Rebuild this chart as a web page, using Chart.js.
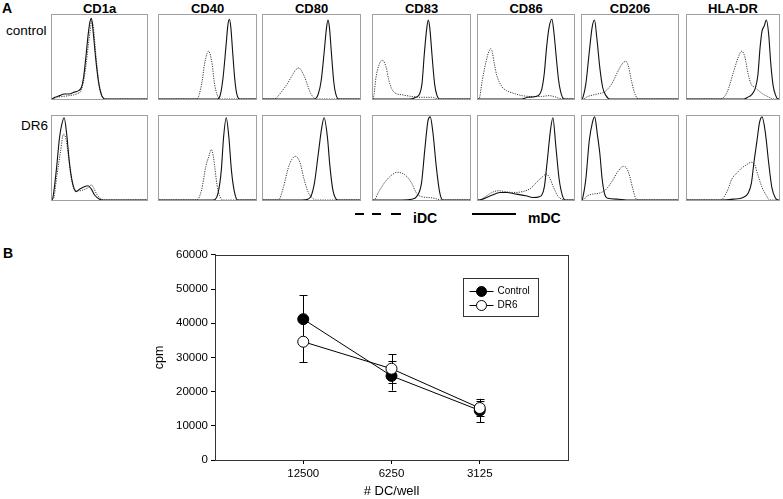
<!DOCTYPE html>
<html>
<head>
<meta charset="utf-8">
<script src="https://cdn.jsdelivr.net/npm/chart.js@4.4.1/dist/chart.umd.min.js"></script>
<style>
body { margin:0; background:#fff; width:783px; height:499px; position:relative; overflow:hidden;
       font-family:"Liberation Sans", Arial, sans-serif; color:#000; }
.lbl { position:absolute; white-space:nowrap; line-height:1; }
.hdr { font-weight:bold; font-size:13px; text-align:center; width:110px; }
.panel { position:absolute; border:1px solid #a0a0a0; box-sizing:border-box; height:86px; }
.panel canvas { display:block; }
.dash { position:absolute; height:2px; background:#000; }
</style>
</head>
<body>
<script>
// ---- panel A: histogram outlines, x and y in % of the panel ----
const markers = ["CD1a", "CD40", "CD80", "CD83", "CD86", "CD206", "HLA-DR"];
const rowNames = ["control", "DR6"];

const cd1aCtrlIdc = [[0,0],[5,2],[11,3],[18,4],[26,6],[30,9],[32,15],[34,26],[36,42],[38,62],[40,80],[42,93],[43.5,86],[46,55],[49,22],[52,6],[55.5,0],[100,0]];
const cd1aCtrlMdc = [[0,0],[3,2],[8,4],[13,6],[18,6],[23,8],[28,10],[31,14],[33,24],[35.5,48],[38,76],[40,92],[41.5,96],[43.5,78],[46,48],[49,20],[52,5],[55.5,0],[100,0]];
const cd40CtrlIdc = [[0,0],[39,0],[44,18],[47,42],[49.5,54],[51,57],[53,52],[55,40],[57,20],[60,5],[64,0],[100,0]];
const cd40CtrlMdc = [[0,0],[60,0],[63,4],[66,25],[69,62],[71,88],[72.5,95],[74,86],[76,55],[78,25],[80,7],[83,0],[100,0]];
const cd80CtrlIdc = [[0,0],[12,0],[16,4],[20,10],[25,18],[30,28],[34,35],[37,37],[40,33],[43,26],[46,16],[49,7],[52,2],[55,0],[100,0]];
const cd80CtrlMdc = [[0,0],[53,0],[57,6],[60,22],[63,55],[65.5,85],[67,94],[68.5,85],[70.5,55],[73,20],[75,6],[78,0],[100,0]];
const cd83CtrlIdc = [[0,0],[1,5],[3,25],[6,40],[9,46],[11,45],[13.5,38],[16,24],[19,13],[23,7],[30,5],[40,3],[50,2],[60,2],[68,0],[100,0]];
const cd83CtrlMdc = [[0,0],[38,0],[44,2],[48,6],[50.5,18],[53,55],[55.5,85],[57,94],[58.5,85],[61,50],[63.5,18],[66,4],[69,0],[100,0]];
const cd86CtrlIdc = [[0,0],[1,0],[4.4,22],[9.5,50],[12,58],[13.5,60],[15,55],[17,42],[19.6,28],[24.7,15],[29.7,10],[36.5,7],[46,4],[56,3],[66,3],[74,4],[79,3],[84,1],[89,0],[100,0]];
const cd86CtrlMdc = [[0,0],[45,0],[52,2],[60,3],[66,10],[69,30],[71.5,62],[74,85],[77,95],[79,80],[81.5,50],[84,22],[87,5],[90,0],[100,0]];
const cd206CtrlIdc = [[0,0],[1,0],[6,3],[16,6],[24,9],[31,18],[37,32],[42,42],[45.8,45],[48.5,38],[51.5,22],[54.5,8],[57.5,1],[60,0],[100,0]];
const cd206CtrlMdc = [[0,0],[1,2],[4,18],[7.5,55],[10.5,85],[13,94],[15.5,72],[18.5,38],[21.5,14],[25,4],[29,0],[100,0]];
const hlaCtrlIdc = [[0,0],[36,0],[43.5,8],[50.5,32],[55.8,50],[59.4,57],[62.9,50],[66.4,30],[70,17],[73.5,14],[78.8,9],[84,5],[89.4,2],[93,0],[100,0]];
const hlaCtrlMdc = [[0,0],[62,0],[66,2],[70,5],[74,12],[77,28],[79.5,62],[81.6,81],[84,87],[86.2,94],[88.7,78],[91,43],[93.6,16],[96.5,4],[99,0],[100,0]];

const cd1aDr6Idc = [[0,0],[2,3],[5,28],[9,58],[12,78],[14.5,74],[17,55],[20,28],[24,12],[29.3,11],[35,13],[38.5,15],[41.4,18],[44,14],[47,7],[51,2],[55,0],[100,0]];
const cd1aDr6Mdc = [[0,0],[1,3],[4.5,35],[8,75],[10.3,90],[12.8,98],[15.5,78],[18.3,45],[21.7,20],[25.2,10],[29.3,13],[34.5,16],[38,17],[41.4,13],[44.8,6],[50,1],[53.4,0],[100,0]];
const cd40Dr6Idc = [[0,0],[38.9,0],[43.9,12],[48.3,40],[51.4,52],[54,60],[56,52],[57.4,40],[59.8,18],[62.5,5],[65.9,0],[100,0]];
const cd40Dr6Mdc = [[0,0],[55.7,0],[60.8,8],[64.2,35],[66.6,75],[69.3,98],[72,75],[74.7,35],[77.7,10],[81.1,0],[100,0]];
const cd80Dr6Idc = [[0,0],[16,0],[21,15],[26,38],[29.5,48],[33.6,52],[38,45],[42.3,25],[46.3,10],[51.3,2],[54.7,0],[100,0]];
const cd80Dr6Mdc = [[0,0],[39.6,0],[46.3,1],[49.7,5],[53,20],[57,55],[60.4,85],[63,98],[66.4,75],[69,40],[72,12],[74.8,2],[77.2,0],[100,0]];
const cd83Dr6Idc = [[0,0],[1,0],[6,10],[12.8,22],[19.6,30],[24.7,33],[29.7,32],[34.8,28],[39.9,20],[44.9,8],[50,4],[56.8,3],[63.5,2],[70.3,0],[100,0]];
const cd83Dr6Mdc = [[0,0],[29.7,0],[39.9,1],[44.9,4],[50,20],[53.4,60],[56.8,95],[59,99],[61.8,80],[65.2,40],[68.6,10],[72,0],[100,0]];
const cd86Dr6Idc = [[0,0],[1,0],[7.8,4],[14.5,9],[21.3,11],[28,10],[36.5,9],[46.6,10],[55,14],[61.8,22],[67.6,28],[71,31],[74.3,27],[78.7,15],[83,5],[87,1],[90.5,0],[100,0]];
const cd86Dr6Mdc = [[0,0],[1,0],[13,5],[23,9],[30,9],[40,7],[50,5],[57,3],[64,4],[69,15],[72,45],[75.7,85],[78,98],[81,65],[84.5,25],[88,5],[91,0],[100,0]];
const cd206Dr6Idc = [[0,0],[0.7,0],[5.8,5],[10.8,7],[17.6,8],[24.4,12],[31.2,22],[38,35],[43,40],[46.4,38],[49.8,28],[53.2,12],[55.9,2],[58.3,0],[100,0]];
const cd206Dr6Mdc = [[0,0],[0.7,2],[4,25],[7.5,70],[10.8,92],[13.2,99],[16,78],[18.6,55],[21,25],[23.4,8],[26.8,2],[36.3,1],[46.4,0],[100,0]];
const hlaDr6Idc = [[0,0],[36.4,0],[43.5,10],[48.8,25],[54,32],[59.4,38],[64.7,42],[70,45],[73.5,42],[77,30],[81.6,15],[85.9,6],[90,0],[100,0]];
const hlaDr6Mdc = [[0,0],[36.4,0],[50.5,1],[61,3],[66.4,8],[70,20],[72.8,45],[76,70],[78.8,92],[81.6,99],[85.2,80],[88.7,45],[92.2,15],[95.8,3],[99.3,0],[100,0]];

const idcRows = [
  [cd1aCtrlIdc, cd40CtrlIdc, cd80CtrlIdc, cd83CtrlIdc, cd86CtrlIdc, cd206CtrlIdc, hlaCtrlIdc],
  [cd1aDr6Idc, cd40Dr6Idc, cd80Dr6Idc, cd83Dr6Idc, cd86Dr6Idc, cd206Dr6Idc, hlaDr6Idc]
];
const mdcRows = [
  [cd1aCtrlMdc, cd40CtrlMdc, cd80CtrlMdc, cd83CtrlMdc, cd86CtrlMdc, cd206CtrlMdc, hlaCtrlMdc],
  [cd1aDr6Mdc, cd40Dr6Mdc, cd80Dr6Mdc, cd83Dr6Mdc, cd86Dr6Mdc, cd206Dr6Mdc, hlaDr6Mdc]
];

// ---- panel B: proliferation ----
const dcLabels = ["12500", "6250", "3125"];
const controlCpm = [41200, 24600, 14500];
const controlErr = [7000, 4300, 3400];
const dr6Cpm = [34600, 26700, 15200];
const dr6Err = [6000, 4200, 2200];

// layout
const panelLeft = [51, 158, 262, 372, 477, 581, 686];
const panelWidth = [97, 99, 99, 99, 98, 98, 94];
const panelTop = [14, 115];
const panelH = 86;

function addLabel(text, left, top, css) {
  var d = document.createElement("div");
  d.className = "lbl";
  d.textContent = text;
  d.style.left = left + "px";
  d.style.top = top + "px";
  d.style.cssText += css || "";
  document.body.appendChild(d);
  return d;
}

function toPts(arr) {
  return arr.map(function (p) { return { x: p[0], y: p[1] }; });
}

addLabel("A", 2, 1, "font-weight:bold;font-size:14px;");
addLabel("B", 3, 246, "font-weight:bold;font-size:14px;");
addLabel("control", 6, 23.5, "font-size:13.5px;");
addLabel("DR6", 21, 118.6, "font-size:13.5px;");

for (let c = 0; c < markers.length; c++) {
  var h = addLabel(markers[c], panelLeft[c] + panelWidth[c] / 2 - 55, 2, "");
  h.classList.add("hdr");
}

for (let r = 0; r < 2; r++) {
  for (let c = 0; c < markers.length; c++) {
    var box = document.createElement("div");
    box.className = "panel";
    box.style.left = panelLeft[c] + "px";
    box.style.top = panelTop[r] + "px";
    box.style.width = panelWidth[c] + "px";
    var cv = document.createElement("canvas");
    cv.width = panelWidth[c] - 2;
    cv.height = panelH - 2;
    box.appendChild(cv);
    document.body.appendChild(box);

    new Chart(cv.getContext("2d"), {
      type: "line",
      data: {
        datasets: [{
          data: toPts(mdcRows[r][c]),
          borderColor: "#111",
          borderWidth: 1.1,
          pointRadius: 0,
          cubicInterpolationMode: "monotone"
        }, {
          data: toPts(idcRows[r][c]),
          borderColor: "#3a3a3a",
          borderWidth: 1,
          borderDash: [1.2, 1.2],
          pointRadius: 0,
          cubicInterpolationMode: "monotone"
        }]
      },
      options: {
        responsive: false,
        animation: false,
        layout: { padding: 0 },
        plugins: { legend: { display: false }, tooltip: { enabled: false } },
        scales: {
          x: { type: "linear", min: 0, max: 100, display: false },
          y: { min: 0, max: 100, display: false }
        }
      }
    });
  }
}

// legend for A
[[355, 9], [372, 9], [391, 10]].forEach(function (d) {
  var s = document.createElement("div");
  s.className = "dash";
  s.style.left = d[0] + "px";
  s.style.width = d[1] + "px";
  s.style.top = "213px";
  document.body.appendChild(s);
});
var solid = document.createElement("div");
solid.className = "dash";
solid.style.cssText = "left:472px;width:44px;top:213px;";
document.body.appendChild(solid);
addLabel("iDC", 413, 211, "font-weight:bold;font-size:14px;");
addLabel("mDC", 528, 211, "font-weight:bold;font-size:14px;");

// ---- chart B ----
var cvB = document.createElement("canvas");
cvB.width = 431;
cvB.height = 254;
cvB.style.cssText = "position:absolute;left:152px;top:245px;";
document.body.appendChild(cvB);

const errorBars = {
  id: "errorBars",
  beforeDatasetsDraw: function (chart) {
    var ctx = chart.ctx, ys = chart.scales.y;
    var errs = [controlErr, dr6Err];
    ctx.save();
    ctx.strokeStyle = "#000";
    ctx.lineWidth = 1;
    chart.data.datasets.forEach(function (ds, i) {
      var meta = chart.getDatasetMeta(i);
      meta.data.forEach(function (pt, j) {
        var v = ds.data[j].y, e = errs[i][j];
        var top = ys.getPixelForValue(v + e), bot = ys.getPixelForValue(v - e);
        var x = Math.round(pt.x) + 0.5;
        ctx.beginPath();
        ctx.moveTo(x, top); ctx.lineTo(x, bot);
        ctx.moveTo(x - 4, Math.round(top) + 0.5); ctx.lineTo(x + 4, Math.round(top) + 0.5);
        ctx.moveTo(x - 4, Math.round(bot) + 0.5); ctx.lineTo(x + 4, Math.round(bot) + 0.5);
        ctx.stroke();
      });
    });
    ctx.restore();
  }
};

const frameAndLegend = {
  id: "frameAndLegend",
  afterDraw: function (chart) {
    var ctx = chart.ctx, a = chart.chartArea;
    ctx.save();
    ctx.strokeStyle = "#333";
    ctx.lineWidth = 1;
    ctx.strokeRect(Math.round(a.left) + 0.5, Math.round(a.top) + 0.5,
                   Math.round(a.right - a.left), Math.round(a.bottom - a.top));
    var bx = Math.round(a.right) - 105 + 0.5, by = Math.round(a.top) + 23 + 0.5;
    ctx.strokeRect(bx, by, 75, 38);
    var rows = [["Control", "#000"], ["DR6", "#fff"]];
    ctx.font = "10px 'Liberation Sans', Arial, sans-serif";
    ctx.textBaseline = "middle";
    rows.forEach(function (r, i) {
      var y = by + 13 + i * 14;
      ctx.beginPath();
      ctx.moveTo(bx + 6, y); ctx.lineTo(bx + 30, y);
      ctx.strokeStyle = "#000";
      ctx.stroke();
      ctx.beginPath();
      ctx.arc(bx + 18, y, 5, 0, Math.PI * 2);
      ctx.fillStyle = r[1];
      ctx.fill();
      ctx.stroke();
      ctx.fillStyle = "#000";
      ctx.fillText(r[0], bx + 34, y);
    });
    ctx.restore();
  }
};

var tickFont = { family: "'Liberation Sans', Arial, sans-serif", size: 11.5 };
new Chart(cvB.getContext("2d"), {
  type: "line",
  data: {
    datasets: [{
      label: "Control",
      data: controlCpm.map(function (v, i) { return { x: i + 1, y: v }; }),
      borderColor: "#000",
      borderWidth: 1,
      pointRadius: 5.5,
      pointBackgroundColor: "#000",
      pointBorderColor: "#000",
      pointBorderWidth: 1,
      order: 1
    }, {
      label: "DR6",
      data: dr6Cpm.map(function (v, i) { return { x: i + 1, y: v }; }),
      borderColor: "#000",
      borderWidth: 1,
      pointRadius: 5.5,
      pointBackgroundColor: "#fff",
      pointBorderColor: "#000",
      pointBorderWidth: 1,
      order: 0
    }]
  },
  options: {
    responsive: false,
    animation: false,
    layout: { padding: { top: 8, right: 15, left: 0, bottom: 0 } },
    plugins: { legend: { display: false }, tooltip: { enabled: false } },
    scales: {
      x: {
        type: "linear", min: 0, max: 4,
        afterBuildTicks: function (axis) { axis.ticks = [1, 2, 3].map(function (v) { return { value: v }; }); },
        afterFit: function (axis) { axis.height = 39; },
        ticks: { color: "#000", font: tickFont, padding: 3,
                 callback: function (v) { return dcLabels[v - 1]; } },
        grid: { drawOnChartArea: false, color: "#000", tickLength: 4 },
        border: { color: "#333" },
        title: { display: true, text: "# DC/well", color: "#000",
                 font: { family: "'Liberation Sans', Arial, sans-serif", size: 13 }, padding: 0 }
      },
      y: {
        min: 0, max: 60000,
        afterFit: function (axis) { axis.width = 63; },
        ticks: { stepSize: 10000, color: "#000", font: tickFont, padding: 3,
                 callback: function (v) { return String(v); } },
        grid: { drawOnChartArea: false, color: "#000", tickLength: 4 },
        border: { color: "#333" },
        title: { display: true, text: "cpm", color: "#000",
                 font: { family: "'Liberation Sans', Arial, sans-serif", size: 12.5 }, padding: { top: 0, bottom: 3 } }
      }
    }
  },
  plugins: [errorBars, frameAndLegend]
});
</script>
</body>
</html>
